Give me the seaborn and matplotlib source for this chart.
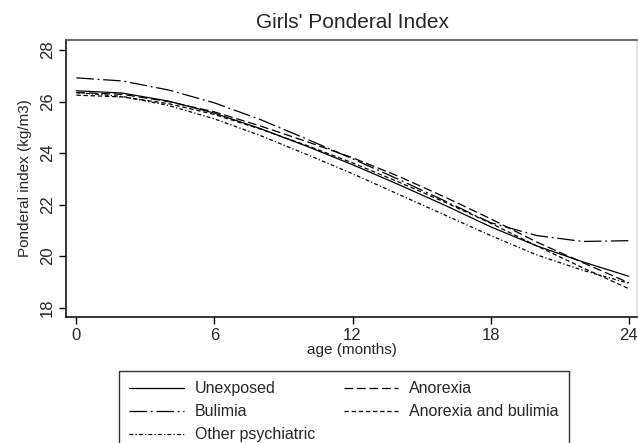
import numpy as np
import pandas as pd
import matplotlib
matplotlib.use('Agg')
import matplotlib.pyplot as plt
import seaborn as sns
from matplotlib.lines import Line2D

# --- Data ---
AGE_MONTHS = [0, 2, 4, 6, 8, 10, 12, 14, 16, 18, 20, 22, 24]
UNEXPOSED = [26.42, 26.33, 26.02, 25.55, 24.95, 24.27, 23.55, 22.78, 21.98, 21.14, 20.40, 19.78, 19.22]
ANOREXIA = [26.35, 26.28, 26.00, 25.60, 25.05, 24.45, 23.82, 23.10, 22.30, 21.45, 20.55, 19.75, 18.97]
BULIMIA = [26.92, 26.80, 26.45, 25.95, 25.30, 24.55, 23.78, 22.98, 22.15, 21.30, 20.80, 20.57, 20.60]
ANOREXIA_BULIMIA = [26.25, 26.18, 25.92, 25.50, 24.93, 24.30, 23.62, 22.88, 22.10, 21.28, 20.40, 19.55, 18.74]
OTHER_PSYCH = [26.35, 26.20, 25.85, 25.33, 24.68, 23.95, 23.20, 22.40, 21.60, 20.80, 20.05, 19.45, 18.95]

GROUPS = ['Unexposed', 'Anorexia', 'Bulimia', 'Anorexia and bulimia', 'Other psychiatric']
SERIES = [UNEXPOSED, ANOREXIA, BULIMIA, ANOREXIA_BULIMIA, OTHER_PSYCH]

X_TICKS = [0, 6, 12, 18, 24]
Y_TICKS = [18, 20, 22, 24, 26, 28]

# line patterns, similar to Stata's
DASHES = {
    'Unexposed': '',
    'Anorexia': (7, 3),
    'Bulimia': (14, 3, 1.5, 3),
    'Anorexia and bulimia': (3.5, 2.2),
    'Other psychiatric': (3, 1.8, 1, 1.8),
}

rows = []
for name, vals in zip(GROUPS, SERIES):
    for a, v in zip(AGE_MONTHS, vals):
        rows.append({'age': a, 'pi': v, 'group': name})
df = pd.DataFrame(rows)

sns.set_style('white')
plt.rcParams['font.family'] = ['Liberation Sans', 'DejaVu Sans']

fig = plt.figure(figsize=(6.38, 4.43), dpi=100)
ax = fig.add_axes([66 / 638, 1 - 316.7 / 443, (637 - 66) / 638, (316.7 - 40) / 443])

sns.lineplot(data=df, x='age', y='pi', style='group', style_order=GROUPS,
             dashes=DASHES, color='black', linewidth=0.9, legend=False, ax=ax)

ax.set_xlim(-0.45, 24.36)
ax.set_ylim(17.65, 28.39)
ax.set_xticks(X_TICKS)
ax.set_yticks(Y_TICKS)
ax.set_xticklabels([str(t) for t in X_TICKS], fontsize=12)
ax.set_yticklabels([str(t) for t in Y_TICKS], fontsize=12, rotation=90, va='center')
ax.tick_params(axis='both', direction='out', length=5, width=1, color='black',
               left=True, bottom=True, pad=3)
for sp in ax.spines.values():
    sp.set_color('black')
    sp.set_linewidth(1.1)
ax.spines['top'].set_color('#444444')
ax.spines['right'].set_color('#dddddd')

ax.set_xlabel('age (months)', fontsize=11, labelpad=0)
ax.set_ylabel('Ponderal index (kg/m3)', fontsize=11, labelpad=6)
fig.text(353 / 638, 1 - 22 / 443, "Girls' Ponderal Index", ha='center', va='center', fontsize=15)

# legend: column-wise fill -> Unexposed, Bulimia, Other / Anorexia, A&B
leg_order = ['Unexposed', 'Bulimia', 'Other psychiatric', 'Anorexia', 'Anorexia and bulimia']
handles = [Line2D([0], [0], color='black', linewidth=0.9,
                  linestyle='-' if DASHES[g] == '' else (0, DASHES[g])) for g in leg_order]
leg = fig.legend(handles, leg_order, ncol=2, loc='upper left',
                 bbox_to_anchor=(119 / 638, 1 - 371 / 443), borderaxespad=0,
                 fontsize=11.5, frameon=True, fancybox=False, edgecolor='black',
                 handlelength=3.4, handletextpad=0.7, columnspacing=1.8,
                 borderpad=0.65, labelspacing=0.5)
leg.get_frame().set_linewidth(1.0)

fig.savefig('out.png', dpi=100)
